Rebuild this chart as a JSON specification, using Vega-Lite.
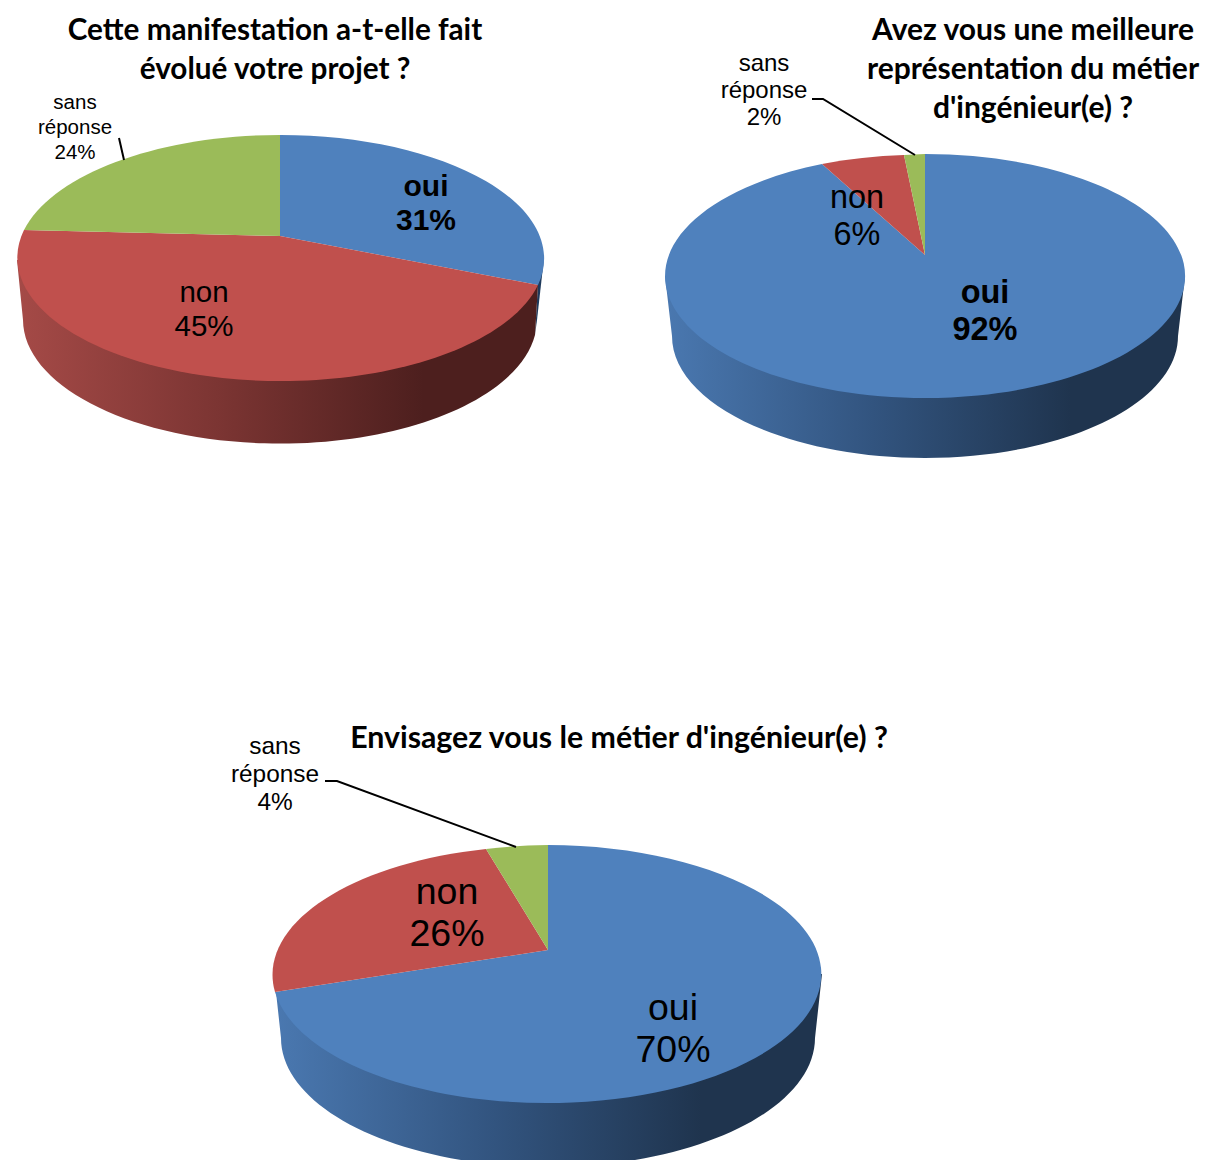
{
"$schema":"https://vega.github.io/schema/vega-lite/v6.json",
"padding":0,"background":"white","bounds":"flush","spacing":740,
"resolve":{"scale":{"shape":"independent","color":"independent"}},
"config":{"view":{"stroke":null},"concat":{"spacing":85}},
"datasets":{"answers":[
{"chart":"projet","answer":"oui","pct":31,"label":"oui\n31%"},
{"chart":"projet","answer":"non","pct":45,"label":"non\n45%"},
{"chart":"projet","answer":"sans réponse","pct":24,"label":"sans\nréponse\n24%"},
{"chart":"metier","answer":"oui","pct":92,"label":"oui\n92%"},
{"chart":"metier","answer":"non","pct":6,"label":"non\n6%"},
{"chart":"metier","answer":"sans réponse","pct":2,"label":"sans\nréponse\n2%"},
{"chart":"envisage","answer":"oui","pct":70,"label":"oui\n70%"},
{"chart":"envisage","answer":"non","pct":26,"label":"non\n26%"},
{"chart":"envisage","answer":"sans réponse","pct":4,"label":"sans\nréponse\n4%"}
]},
"data":{"name":"answers"},
"vconcat":[
{"resolve":{"scale":{"shape":"independent","color":"independent"}},"hconcat":[
{"width":560,"height":472,"transform":[{"filter":"datum.chart==='projet'"}],"layer":[
{"transform":[{"filter":"datum.answer==='oui'"}],"mark":{"type":"point","filled":true,"opacity":1,"size":4,"strokeWidth":0,"fill":"#1f3a5c"},"encoding":{"shape":{"value":"M258,47 L255,99 L257,84 L264,22 Z"}}},
{"transform":[{"filter":"datum.answer==='non'"}],"mark":{"type":"point","filled":true,"opacity":1,"size":4,"strokeWidth":0,"fill":{"gradient":"linear","x1":0,"y1":0,"x2":1,"y2":0,"stops":[{"offset":0,"color":"#a54a47"},{"offset":0.4,"color":"#7a3432"},{"offset":0.78,"color":"#4d1f1e"},{"offset":1,"color":"#4d1f1e"}]}},"encoding":{"shape":{"value":"M-263,24 L-257,84 A257,124 0 0 0 255,99 L258,49 Z"}}},
{"mark":{"type":"point","filled":true,"opacity":1,"size":4,"strokeWidth":0},"encoding":{
"shape":{"field":"answer","type":"nominal","legend":null,"scale":{"domain":["oui","non","sans réponse"],"range":["M0,0 L0,-101 A263.5,123.5 0 0 1 258,49 Z","M0,0 L258,49 A263.5,123.5 0 1 1 -256,-6 Z","M0,0 L-256,-6 A263.5,123.5 0 0 1 0,-101 Z"]}},
"color":{"field":"answer","type":"nominal","legend":null,"scale":{"domain":["oui","non","sans réponse"],"range":["#4F81BD","#C0504D","#9BBB59"]}}}},
{"transform":[{"filter":"datum.answer==='sans réponse'"}],"mark":{"type":"point","filled":false,"opacity":1,"size":4,"stroke":"black","strokeWidth":2},"encoding":{"shape":{"value":"M-161,-98 L-156,-76"}}},
{"transform":[{"filter":"datum.answer==='oui'"}],"mark":{"type":"text","dx":146,"dy":-49,"font":"Liberation Sans","fontWeight":"bold","fontSize":30,"lineHeight":34,"lineBreak":"\n","align":"center","baseline":"middle"},"encoding":{"text":{"field":"label"}}},
{"transform":[{"filter":"datum.answer==='non'"}],"mark":{"type":"text","dx":-76,"dy":57,"font":"Liberation Sans","fontSize":29.5,"lineHeight":34,"lineBreak":"\n","align":"center","baseline":"middle"},"encoding":{"text":{"field":"label"}}},
{"transform":[{"filter":"datum.answer==='sans réponse'"}],"mark":{"type":"text","dx":-205,"dy":-133,"font":"Liberation Sans","fontSize":20.5,"lineHeight":25,"lineBreak":"\n","align":"center","baseline":"middle"},"encoding":{"text":{"field":"label"}}},
{"data":{"values":[{"title":"Cette manifestation a-t-elle fait\névolué votre projet ?"}]},"transform":[],"mark":{"type":"text","dx":-5,"dy":-205,"font":"Lato","fontWeight":"bold","fontSize":29.7,"lineHeight":39,"lineBreak":"\n","align":"center","baseline":"middle"},"encoding":{"text":{"field":"title"}}}
]},
{"width":560,"height":510,"transform":[{"filter":"datum.chart==='metier'"}],"layer":[
{"transform":[{"filter":"datum.answer==='oui'"}],"mark":{"type":"point","filled":true,"opacity":1,"size":4,"strokeWidth":0,"fill":{"gradient":"linear","x1":0,"y1":0,"x2":1,"y2":0,"stops":[{"offset":0,"color":"#4a78b0"},{"offset":0.4,"color":"#32547f"},{"offset":0.78,"color":"#1f344e"},{"offset":1,"color":"#1f344e"}]}},"encoding":{"shape":{"value":"M-260,21 L-253,81 A253,122 0 0 0 253,81 L260,21 Z"}}},
{"mark":{"type":"point","filled":true,"opacity":1,"size":4,"strokeWidth":0},"encoding":{
"shape":{"field":"answer","type":"nominal","legend":null,"scale":{"domain":["oui","non","sans réponse"],"range":["M0,0 L0,-101 A260,122 0 1 1 -103,-91 Z","M0,0 L-103,-91 A260,122 0 0 1 -21,-100 Z","M0,0 L-21,-100 A260,122 0 0 1 0,-101 Z"]}},
"color":{"field":"answer","type":"nominal","legend":null,"scale":{"domain":["oui","non","sans réponse"],"range":["#4F81BD","#C0504D","#9BBB59"]}}}},
{"transform":[{"filter":"datum.answer==='sans réponse'"}],"mark":{"type":"point","filled":false,"opacity":1,"size":4,"stroke":"black","strokeWidth":2},"encoding":{"shape":{"value":"M-113,-156 L-102,-156 L-10,-100"}}},
{"transform":[{"filter":"datum.answer==='oui'"}],"mark":{"type":"text","dx":60,"dy":38,"font":"Liberation Sans","fontWeight":"bold","fontSize":32.5,"lineHeight":37,"lineBreak":"\n","align":"center","baseline":"middle"},"encoding":{"text":{"field":"label"}}},
{"transform":[{"filter":"datum.answer==='non'"}],"mark":{"type":"text","dx":-68,"dy":-57,"font":"Liberation Sans","fontSize":32.4,"lineHeight":37,"lineBreak":"\n","align":"center","baseline":"middle"},"encoding":{"text":{"field":"label"}}},
{"transform":[{"filter":"datum.answer==='sans réponse'"}],"mark":{"type":"text","dx":-161,"dy":-191,"font":"Liberation Sans","fontSize":24,"lineHeight":27,"lineBreak":"\n","align":"center","baseline":"middle"},"encoding":{"text":{"field":"label"}}},
{"data":{"values":[{"title":"Avez vous une meilleure\nreprésentation du métier\nd'ingénieur(e) ?"}]},"mark":{"type":"text","dx":108,"dy":-224,"font":"Lato","fontWeight":"bold","fontSize":30,"lineHeight":39,"lineBreak":"\n","align":"center","baseline":"middle"},"encoding":{"text":{"field":"title"}}}
]}
]},
{"width":1096,"height":420,"transform":[{"filter":"datum.chart==='envisage'"}],"layer":[
{"transform":[{"filter":"datum.answer==='oui'"}],"mark":{"type":"point","filled":true,"opacity":1,"size":4,"strokeWidth":0,"fill":{"gradient":"linear","x1":0,"y1":0,"x2":1,"y2":0,"stops":[{"offset":0,"color":"#4a78b0"},{"offset":0.4,"color":"#32547f"},{"offset":0.78,"color":"#1f344e"},{"offset":1,"color":"#1f344e"}]}},"encoding":{"shape":{"value":"M-272,42 L-267,88 A267,129 0 0 0 -87,210 L87,210 A267,129 0 0 0 267,88 L274,24 Z"}}},
{"mark":{"type":"point","filled":true,"opacity":1,"size":4,"strokeWidth":0},"encoding":{
"shape":{"field":"answer","type":"nominal","legend":null,"scale":{"domain":["oui","non","sans réponse"],"range":["M0,0 L0,-105 A274.5,129 0 1 1 -273,42 Z","M0,0 L-273,42 A274.5,129 0 0 1 -62,-101 Z","M0,0 L-62,-101 A274.5,129 0 0 1 0,-105 Z"]}},
"color":{"field":"answer","type":"nominal","legend":null,"scale":{"domain":["oui","non","sans réponse"],"range":["#4F81BD","#C0504D","#9BBB59"]}}}},
{"transform":[{"filter":"datum.answer==='sans réponse'"}],"mark":{"type":"point","filled":false,"opacity":1,"size":4,"stroke":"black","strokeWidth":2},"encoding":{"shape":{"value":"M-223,-169 L-211,-169 L-32,-103"}}},
{"transform":[{"filter":"datum.answer==='oui'"}],"mark":{"type":"text","dx":125,"dy":59,"font":"Liberation Sans","fontSize":37.5,"lineHeight":42,"lineBreak":"\n","align":"center","baseline":"middle"},"encoding":{"text":{"field":"label"}}},
{"transform":[{"filter":"datum.answer==='non'"}],"mark":{"type":"text","dx":-101,"dy":-57,"font":"Liberation Sans","fontSize":37.5,"lineHeight":42,"lineBreak":"\n","align":"center","baseline":"middle"},"encoding":{"text":{"field":"label"}}},
{"transform":[{"filter":"datum.answer==='sans réponse'"}],"mark":{"type":"text","dx":-273,"dy":-203,"font":"Liberation Sans","fontSize":24.4,"lineHeight":28,"lineBreak":"\n","align":"center","baseline":"middle"},"encoding":{"text":{"field":"label"}}},
{"data":{"values":[{"title":"Envisagez vous le métier d'ingénieur(e) ?"}]},"mark":{"type":"text","dx":71,"dy":-211,"font":"Lato","fontWeight":"bold","fontSize":30.3,"lineHeight":39,"align":"center","baseline":"middle"},"encoding":{"text":{"field":"title"}}}
]}
]}
